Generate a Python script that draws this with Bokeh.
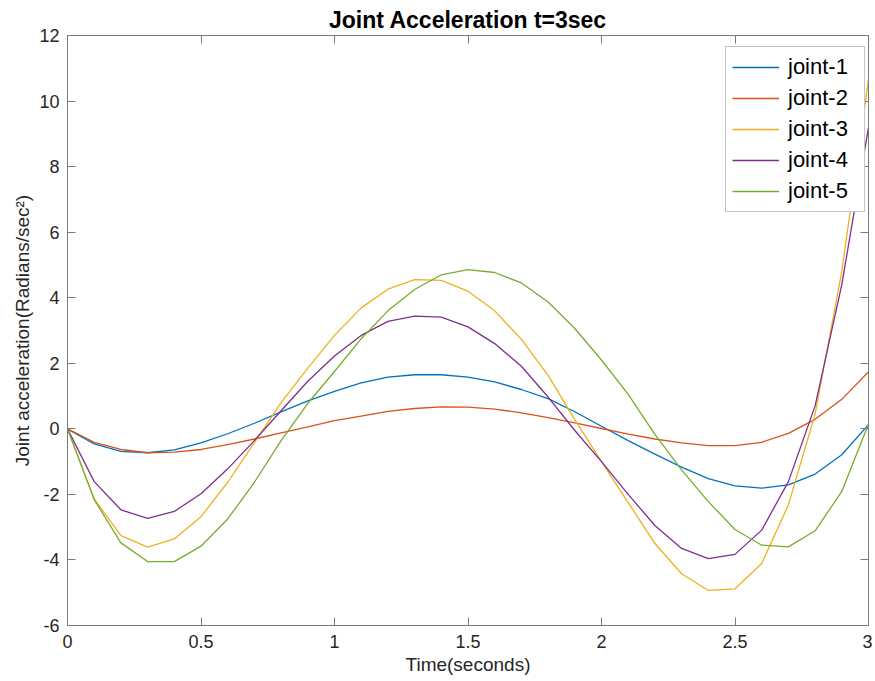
from bokeh.plotting import figure
from bokeh.models import LinearAxis, Legend, LegendItem, FixedTicker
from bokeh.embed import file_html
from bokeh.resources import INLINE

time_s = [0.0, 0.1, 0.2, 0.3, 0.4, 0.5, 0.6, 0.7, 0.8, 0.9, 1.0,
          1.1, 1.2, 1.3, 1.4, 1.5, 1.6, 1.7, 1.8, 1.9, 2.0,
          2.1, 2.2, 2.3, 2.4, 2.5, 2.6, 2.7, 2.8, 2.9, 3.0]

joint_1 = [0, -0.46, -0.69, -0.73, -0.64, -0.43, -0.15, 0.17, 0.52, 0.85, 1.14,
           1.40, 1.58, 1.65, 1.65, 1.58, 1.43, 1.20, 0.92, 0.52, 0.08,
           -0.36, -0.77, -1.17, -1.52, -1.74, -1.81, -1.71, -1.38, -0.79, 0.13]
joint_2 = [0, -0.41, -0.63, -0.73, -0.71, -0.63, -0.48, -0.31, -0.12, 0.06, 0.25,
           0.39, 0.53, 0.62, 0.67, 0.66, 0.60, 0.49, 0.34, 0.18, 0.01,
           -0.16, -0.31, -0.43, -0.51, -0.51, -0.41, -0.14, 0.29, 0.90, 1.74]
joint_3 = [0, -2.14, -3.26, -3.61, -3.36, -2.68, -1.63, -0.42, 0.80, 1.85, 2.85,
           3.69, 4.26, 4.55, 4.53, 4.20, 3.60, 2.73, 1.63, 0.28, -1.00,
           -2.25, -3.50, -4.42, -4.93, -4.88, -4.11, -2.32, 0.45, 4.80, 10.65]
joint_4 = [0, -1.61, -2.47, -2.73, -2.52, -1.98, -1.22, -0.36, 0.55, 1.45, 2.22,
           2.85, 3.28, 3.44, 3.41, 3.11, 2.60, 1.91, 0.97, -0.05, -1.00,
           -2.00, -2.95, -3.65, -3.96, -3.83, -3.09, -1.61, 0.70, 4.40, 9.20]
joint_5 = [0, -2.16, -3.48, -4.05, -4.05, -3.58, -2.75, -1.63, -0.36, 0.78, 1.75,
           2.75, 3.60, 4.25, 4.70, 4.86, 4.77, 4.45, 3.87, 3.06, 2.10,
           1.05, -0.17, -1.25, -2.22, -3.07, -3.55, -3.60, -3.11, -1.91, 0.15]

series_names = ["joint-1", "joint-2", "joint-3", "joint-4", "joint-5"]
series_colors = ["#0072BD", "#D95319", "#EDB120", "#7E2F8E", "#77AC30"]

x_ticks = [0, 0.5, 1, 1.5, 2, 2.5, 3]
x_tick_labels = ["0", "0.5", "1", "1.5", "2", "2.5", "3"]
y_ticks = [-6, -4, -2, 0, 2, 4, 6, 8, 10, 12]
y_tick_labels = ["-6", "-4", "-2", "0", "2", "4", "6", "8", "10", "12"]

title_text = "Joint Acceleration t=3sec"
x_label = "Time(seconds)"
y_label = "Joint acceleration(Radians/sec\u00b2)"

FONT = "Liberation Sans"
AX = "#7a7a7a"
TXT = "#262626"

p = figure(width=872, height=680, x_range=(0, 3), y_range=(-6, 12),
           output_backend="svg", toolbar_location=None,
           min_border_left=67, min_border_right=4, min_border_top=35,
           min_border_bottom=55)
p.background_fill_color = "white"
p.border_fill_color = "white"
p.outline_line_color = AX
p.outline_line_width = 1
p.xgrid.visible = False
p.ygrid.visible = False

p.title.text = title_text
p.title.text_font = FONT
p.title.text_font_size = "23px"
p.title.text_font_style = "bold"
p.title.text_color = "#000000"
p.title.align = "center"
p.title.standoff = 5

def style_axis(ax, ticks, labels, show_labels=True):
    ax.ticker = FixedTicker(ticks=ticks)
    ax.axis_line_color = AX
    ax.axis_line_width = 1
    ax.major_tick_line_color = AX
    ax.major_tick_in = 8
    ax.major_tick_out = 0
    ax.minor_tick_line_color = None
    ax.major_label_text_font = FONT
    ax.major_label_text_color = TXT
    ax.axis_label_text_font = FONT
    ax.axis_label_text_color = TXT
    ax.axis_label_text_font_style = "normal"
    if show_labels:
        ax.major_label_overrides = {t: l for t, l in zip(ticks, labels)}
    else:
        ax.major_label_overrides = {t: "" for t in ticks}
        ax.major_label_text_color = None
        ax.major_label_standoff = 0

xa = p.xaxis[0]
style_axis(xa, x_ticks, x_tick_labels)
xa.major_label_text_font_size = "18px"
xa.major_label_standoff = 9
xa.axis_label = x_label
xa.axis_label_text_font_size = "19px"
xa.axis_label_standoff = 3

ya = p.yaxis[0]
style_axis(ya, y_ticks, y_tick_labels)
ya.major_label_text_font_size = "18px"
ya.major_label_standoff = 8
ya.axis_label = y_label
ya.axis_label_text_font_size = "19px"
ya.axis_label_standoff = 3

top_ax = LinearAxis()
style_axis(top_ax, x_ticks, x_tick_labels, show_labels=False)
p.add_layout(top_ax, "above")
right_ax = LinearAxis()
style_axis(right_ax, y_ticks, y_tick_labels, show_labels=False)
p.add_layout(right_ax, "right")

items = []
for name, color, ys in zip(series_names, series_colors,
                           [joint_1, joint_2, joint_3, joint_4, joint_5]):
    r = p.line(time_s, ys, line_color=color, line_width=1.3)
    items.append(LegendItem(label=name, renderers=[r]))

legend = Legend(items=items, location=(658, 413))
legend.label_text_font = FONT
legend.label_text_font_size = "22px"
legend.label_text_color = "#000000"
legend.glyph_width = 47
legend.glyph_height = 28
legend.label_height = 28
legend.label_width = 70
legend.label_standoff = 9
legend.spacing = 3
legend.padding = 6
legend.margin = 0
legend.border_line_color = "#8c8c8c"
legend.border_line_width = 1
legend.background_fill_color = "white"
legend.background_fill_alpha = 1.0
p.add_layout(legend, "center")

open("out.html", "w").write(file_html(p, INLINE))
